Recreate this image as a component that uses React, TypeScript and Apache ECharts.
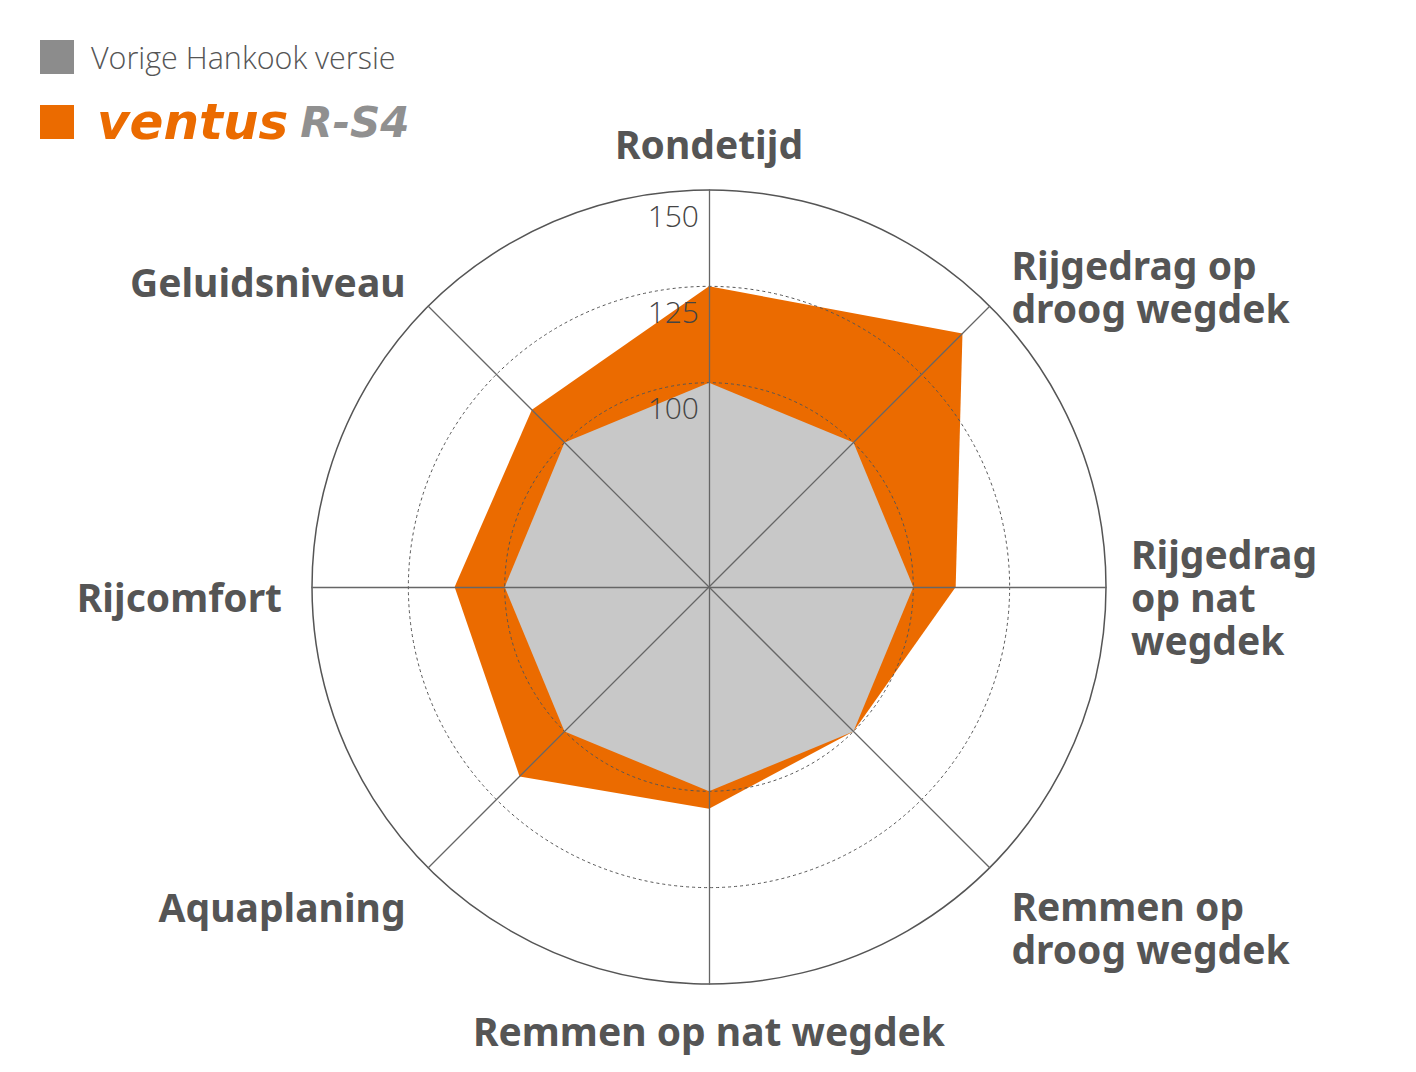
import { useEffect, useRef } from "react";
import * as echarts from "echarts";

// clockwise, starting at the top
const CATEGORIES = [
  "Rondetijd",
  "Rijgedrag op\ndroog wegdek",
  "Rijgedrag\nop nat\nwegdek",
  "Remmen op\ndroog wegdek",
  "Remmen op nat wegdek",
  "Aquaplaning",
  "Rijcomfort",
  "Geluidsniveau",
];
const SERIES_NAMES = ["Vorige Hankook versie", "Ventus R-S4"];
const PREVIOUS = [100, 100, 100, 100, 100, 100, 100, 100];
const VENTUS = [125, 140, 111, 100, 104.5, 116.5, 113, 112];
const TICK_VALUES = [100, 125, 150];

const ORANGE = "#eb6b00";
const GREY_FILL = "#c8c8c8";
const GREY_KEY = "#8c8c8c";
const INK = "#555555";

// radar runs counter-clockwise, the picture runs clockwise
const CCW = [0, 7, 6, 5, 4, 3, 2, 1];
// nudges for the names, [dx, dy] px, same order as CATEGORIES
const NAME_NUDGE = [
  [0, 0], [4, -3], [0, 9], [4, 42], [0, 0], [-5, 21], [-5, 9], [-5, -7],
];

export default function App() {
  const ref = useRef<HTMLDivElement>(null);

  useEffect(() => {
    if (!ref.current) return;
    const chart = echarts.init(ref.current, null, { renderer: "svg" });

    const center = [701, 579];
    const radius = 397;
    const indicators = CCW.map((i, k) => ({
      name: CATEGORIES[i],
      min: 47,
      max: 150,
      ...(k === 0
        ? { axisLabel: { show: true, customValues: TICK_VALUES } }
        : {}),
    }));

    const nameRich: Record<string, any> = {};
    NAME_NUDGE.forEach(([dx, dy], i) => {
      nameRich["n" + i] = {
        fontFamily: "Noto Sans",
        fontSize: 39,
        fontWeight: "bold",
        lineHeight: 43,
        color: INK,
        padding: [0, dx < 0 ? -dx : 0, 0, dx > 0 ? dx : 0],
      };
      if (dy !== 0) nameRich["g" + i] = { fontSize: 6, lineHeight: Math.abs(dy) * 2 };
    });

    chart.setOption({
      animation: false,
      legend: {
        orient: "vertical",
        left: 32,
        top: 32,
        padding: 0,
        itemWidth: 34,
        itemHeight: 34,
        itemGap: 23,
        icon: "rect",
        selectedMode: false,
        itemStyle: { borderWidth: 0 },
        data: [
          { name: SERIES_NAMES[0], itemStyle: { color: GREY_KEY, opacity: 1 } },
          { name: SERIES_NAMES[1], itemStyle: { color: ORANGE, opacity: 1 } },
        ],
        formatter: (name: string) =>
          name === SERIES_NAMES[1] ? "{v|ventus}{r|R-S4}" : `{p|${name}}`,
        textStyle: {
          padding: [0, 0, 0, 12],
          rich: {
            p: {
              fontFamily: "Open Sans",
              fontWeight: 300,
              fontSize: 30.5,
              color: INK,
            },
            v: {
              fontFamily: "DejaVu Sans",
              fontStyle: "italic",
              fontWeight: "bold",
              fontSize: 50,
              color: ORANGE,
              padding: [0, 0, 0, 6],
            },
            r: {
              fontFamily: "DejaVu Sans",
              fontStyle: "italic",
              fontWeight: "bold",
              fontSize: 42,
              color: "#909090",
              padding: [0, 0, 0, 12],
            },
          },
        },
      },
      radar: [
        {
          center,
          radius,
          shape: "circle",
          startAngle: 90,
          z: 3,
          indicator: indicators,
          nameGap: 25,
          axisName: {
            formatter: (value: string) => {
              const idx = CATEGORIES.indexOf(value);
              const dy = NAME_NUDGE[idx][1];
              const lines = value.split("\n").map((l) => `{n${idx}|${l}}`);
              if (dy > 0) lines.unshift(`{g${idx}| }`);
              if (dy < 0) lines.push(`{g${idx}| }`);
              return lines.join("\n");
            },
            rich: nameRich,
          },
          axisLine: { show: true, lineStyle: { color: "#666", width: 1.3 } },
          axisTick: { show: false, customValues: [100, 125] },
          axisLabel: {
            show: false,
            fontFamily: "Open Sans",
            fontWeight: 300,
            fontSize: 30,
            color: "#444",
            margin: 10,
            align: "right",
            verticalAlign: "top",
            padding: [10, 0, 0, 0],
          },
          splitLine: {
            show: true,
            lineStyle: { color: "#555", width: 1, type: [3, 3] },
          },
          splitArea: { show: false },
        },
        {
          center,
          radius,
          shape: "circle",
          startAngle: 90,
          z: 3,
          indicator: indicators.map((d) => ({ name: d.name, min: d.min, max: d.max })),
          axisName: { show: false },
          axisLine: { show: false },
          axisTick: { show: false, customValues: [150] },
          axisLabel: { show: false },
          splitLine: { show: true, lineStyle: { color: "#555", width: 1.5 } },
          splitArea: { show: false },
        },
      ],
      series: [
        {
          type: "radar",
          radarIndex: 0,
          z: 1,
          symbol: "none",
          silent: true,
          data: [
            {
              name: SERIES_NAMES[1],
              value: CCW.map((i) => VENTUS[i]),
              itemStyle: { color: ORANGE },
              lineStyle: { width: 0, color: ORANGE },
              areaStyle: { color: ORANGE, opacity: 1 },
            },
            {
              name: SERIES_NAMES[0],
              value: CCW.map((i) => PREVIOUS[i]),
              itemStyle: { color: GREY_KEY },
              lineStyle: { width: 0, color: GREY_FILL },
              areaStyle: { color: GREY_FILL, opacity: 1 },
            },
          ],
        },
      ],
    });

    return () => chart.dispose();
  }, []);

  return <div ref={ref} style={{ width: 1400, height: 1056 }} />;
}
